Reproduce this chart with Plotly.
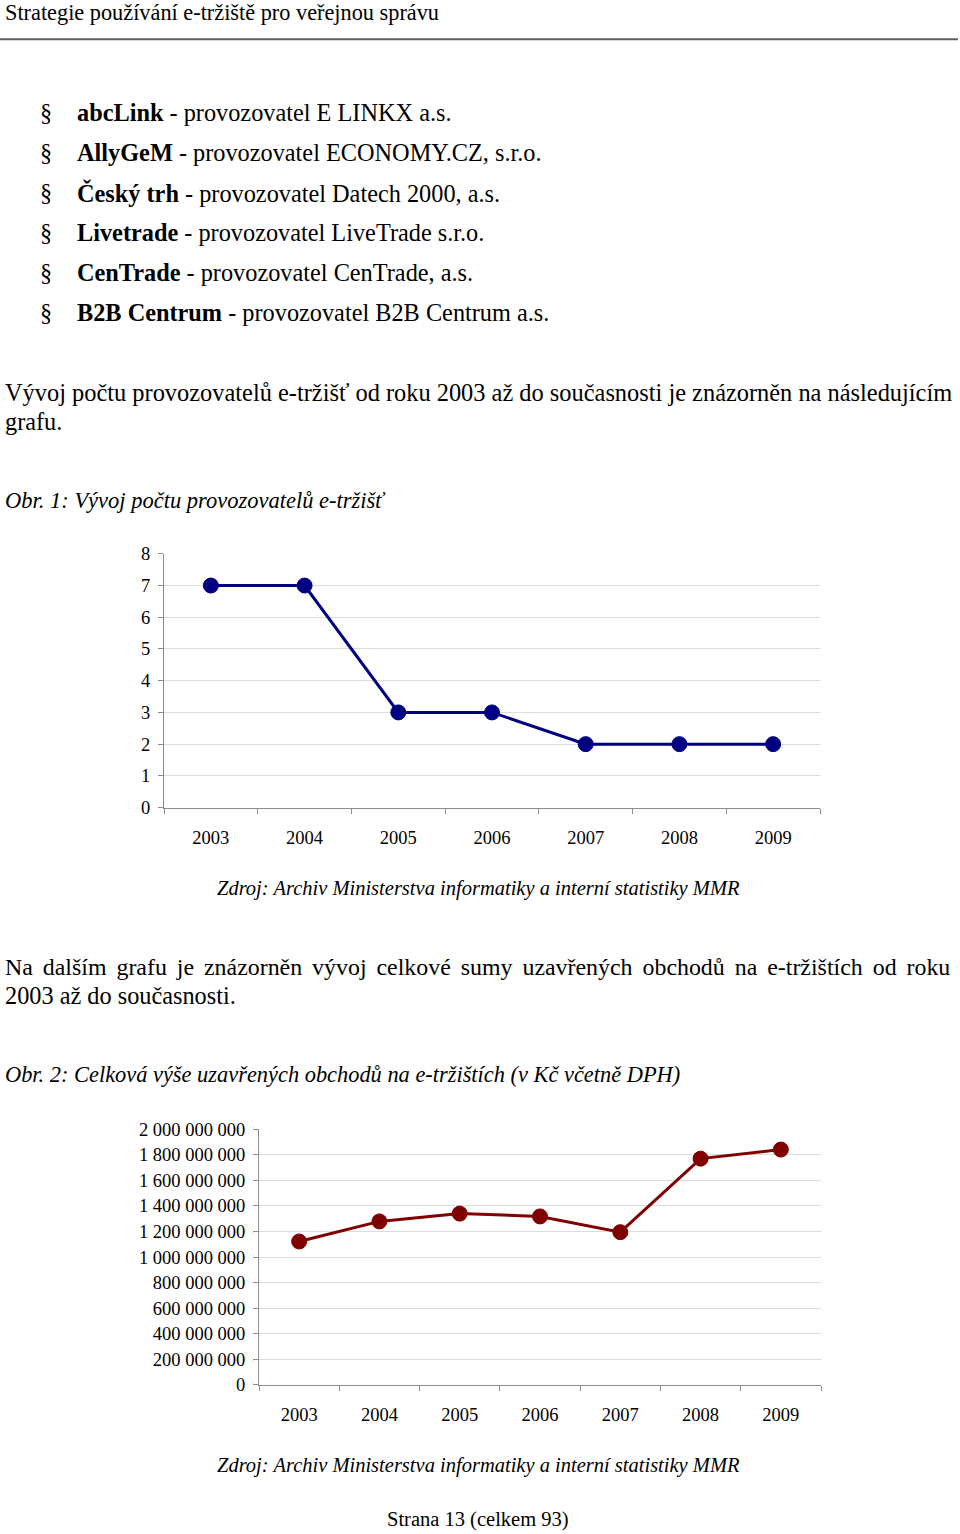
import plotly.graph_objects as go

W = 960
H = 1534
# measured mapping of the page photo: shown_y = OFF + K * figure_y
OFF = 8.6
K = 0.988

years = ["2003", "2004", "2005", "2006", "2007", "2008", "2009"]
operators = [7, 7, 3, 3, 2, 2, 2]
trade_totals = [1122000000, 1279000000, 1340000000, 1318000000, 1195000000, 1770000000, 1841000000]

header = "Strategie používání e-tržiště pro veřejnou správu"
bullets_bold = ["abcLink", "AllyGeM", "Český trh", "Livetrade", "CenTrade", "B2B Centrum"]
bullets_rest = [" - provozovatel E LINKX a.s.", " - provozovatel ECONOMY.CZ, s.r.o.",
                " - provozovatel Datech 2000, a.s.", " - provozovatel LiveTrade s.r.o.",
                " - provozovatel CenTrade, a.s.", " - provozovatel B2B Centrum a.s."]
para1 = ["Vývoj počtu provozovatelů e-tržišť od roku 2003 až do současnosti je znázorněn na následujícím",
         "grafu."]
fig1_title = "Obr. 1: Vývoj počtu provozovatelů e-tržišť"
source = "Zdroj: Archiv Ministerstva informatiky a interní statistiky MMR"
para2 = ["Na dalším grafu je znázorněn vývoj celkové sumy uzavřených obchodů na e-tržištích od roku",
         "2003 až do současnosti."]
fig2_title = "Obr. 2: Celková výše uzavřených obchodů na e-tržištích (v Kč včetně DPH)"
footer = "Strana 13 (celkem 93)"

FONT = "Liberation Serif, Times New Roman, serif"

def px(x):
    return x / W

def py(y):
    return 1 - ((y - OFF) / K) / H

fig = go.Figure()

fig.add_trace(go.Scatter(
    x=years, y=operators, xaxis="x", yaxis="y", mode="lines+markers",
    line=dict(color="#000080", width=3),
    marker=dict(color="#000080", size=15, line=dict(color="#000080", width=1)),
    showlegend=False, hoverinfo="skip"))

fig.add_trace(go.Scatter(
    x=years, y=trade_totals, xaxis="x2", yaxis="y2", mode="lines+markers",
    line=dict(color="#800000", width=3),
    marker=dict(color="#800000", size=15, line=dict(color="#800000", width=1)),
    showlegend=False, hoverinfo="skip"))

axis_common = dict(showline=True, linecolor="#8c8c8c", linewidth=1,
                   tickfont=dict(family=FONT, size=18.5, color="#000"),
                   ticks="outside", tickcolor="#8c8c8c", ticklen=5, zeroline=False, fixedrange=True)

ann = []
def text(x, y, s, size=24.3, anchor="left", italic=False):
    ann.append(dict(x=px(x), y=py(y), xref="paper", yref="paper", text=s, showarrow=False,
                    xanchor=anchor, yanchor="middle",
                    font=dict(family=FONT, size=size, color="#000", style="italic" if italic else "normal")))

def justify(s, extra):
    return s.replace(" ", " " + extra)

text(3, 11, header, size=22.3)
for i, (b, r) in enumerate(zip(bullets_bold, bullets_rest)):
    yy = 111.5 + 40 * i
    text(38, yy, "§", size=24.3)
    text(75, yy, "<b>" + b + "</b>" + r, size=24.3)
text(3, 392, para1[0], size=24.4)
text(3, 421, para1[1], size=24.3)
text(3, 500, fig1_title, size=22.5, italic=True)
text(478, 888, source, size=20.5, anchor="center", italic=True)
text(3, 967, justify(para2[0], "\u2006"), size=23.9)
text(3, 995, para2[1], size=24.3)
text(3, 1074, fig2_title, size=22.4, italic=True)
text(478, 1466, source, size=20.5, anchor="center", italic=True)
text(478, 1520, footer, size=20.5, anchor="center")

fig.update_layout(
    width=W, height=H, autosize=False,
    margin=dict(l=0, r=0, t=0, b=0),
    paper_bgcolor="white", plot_bgcolor="white",
    separators=", ",
    xaxis=dict(domain=[px(164), px(820)], anchor="y", type="category", range=[-0.5, 6.5],
               tickson="boundaries", showgrid=False, ticklabelstandoff=13, **axis_common),
    yaxis=dict(domain=[py(807), py(553)], anchor="x", range=[0, 8], dtick=1,
               showgrid=True, gridcolor="#dcdcdc", gridwidth=1, ticklabelstandoff=4, **axis_common),
    xaxis2=dict(domain=[px(259), px(821)], anchor="y2", type="category", range=[-0.5, 6.5],
                tickson="boundaries", showgrid=False, ticklabelstandoff=13, **axis_common),
    yaxis2=dict(domain=[py(1385), py(1129)], anchor="x2", range=[0, 2000000000], dtick=200000000,
                tickformat=",d", showgrid=True, gridcolor="#dcdcdc", gridwidth=1,
                ticklabelstandoff=4, **axis_common),
    annotations=ann,
    shapes=[dict(type="line", xref="paper", yref="paper", x0=0, x1=px(958), y0=py(38), y1=py(38),
                 line=dict(color="#606060", width=2))],
)

fig.write_html("out.html")
